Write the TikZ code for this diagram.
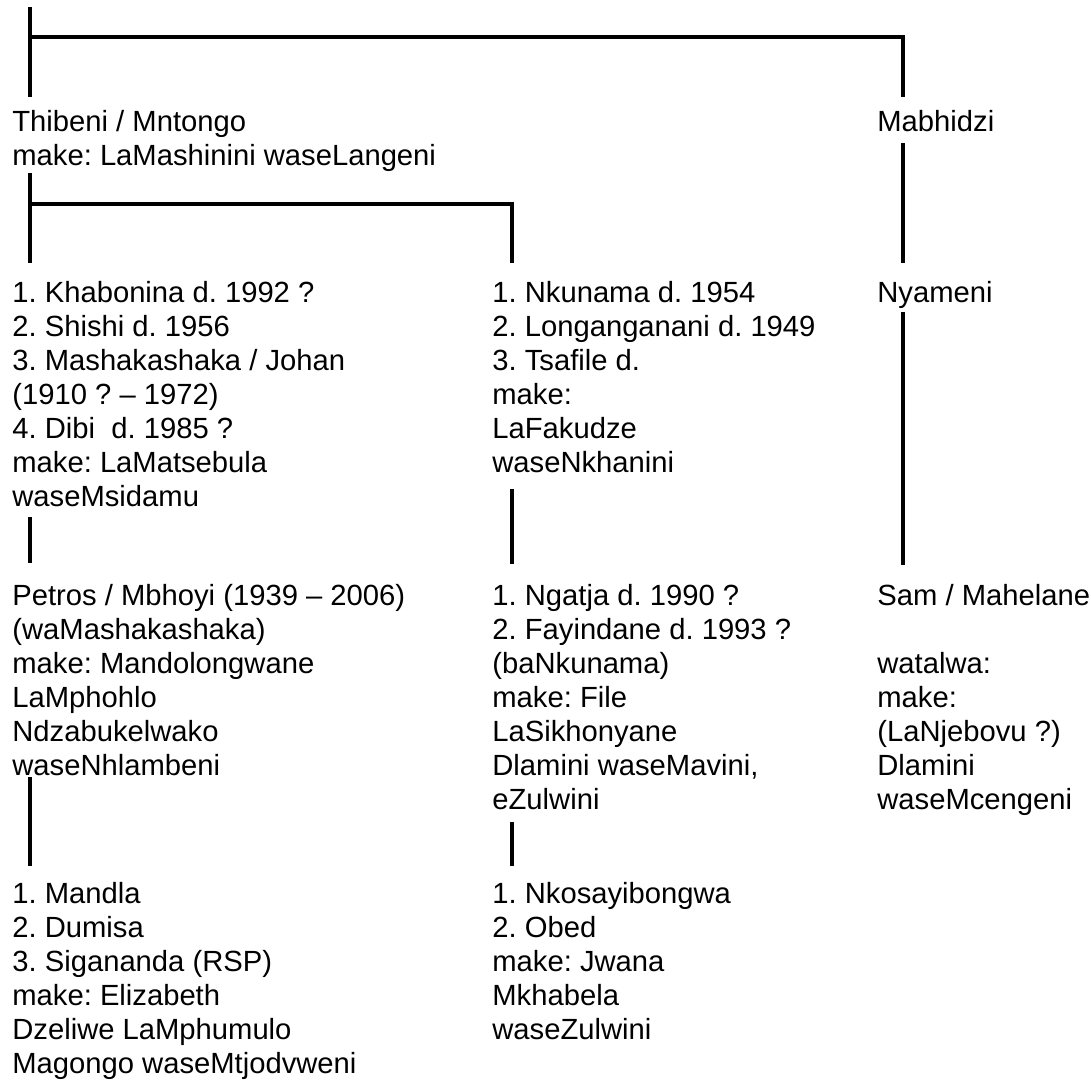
\documentclass[tikz,border=0pt]{standalone}
\usepackage{fontspec}
\setmainfont{Liberation Sans}
\frenchspacing
\tikzset{
  person/.style={anchor=north west, yshift=11.9pt, align=left, inner sep=0pt,
    font=\fontsize{14.6}{17}\selectfont, execute at begin node=\strut},
  branch/.style={line width=1.8pt, line cap=butt, line join=miter}
}
\begin{document}
\begin{tikzpicture}[x=0.5pt, y=-0.5pt]
\useasboundingbox (0,0) rectangle (1091,1082);
% first generation
\node[person] (thibeni) at (12,134) {Thibeni / Mntongo\\make: LaMashinini waseLangeni};
\node[person] (mabhidzi) at (877,131) {Mabhidzi};
% second generation
\node[person] (khabonina) at (12,305) {1. Khabonina d. 1992 ?\\2. Shishi d. 1956\\3. Mashakashaka / Johan\\(1910 ? – 1972)\\4. Dibi\ \ d. 1985 ?\\make: LaMatsebula\\waseMsidamu};
\node[person] (nkunama) at (492,305) {1. Nkunama d. 1954\\2. Longanganani d. 1949\\3. Tsafile d.\\make:\\LaFakudze\\waseNkhanini};
\node[person] (nyameni) at (877,302) {Nyameni};
% third generation
\node[person] (petros) at (12,608) {Petros / Mbhoyi (1939 – 2006)\\(waMashakashaka)\\make: Mandolongwane\\LaMphohlo\\Ndzabukelwako\\waseNhlambeni};
\node[person] (ngatja) at (492,608) {1. Ngatja d. 1990 ?\\2. Fayindane d. 1993 ?\\(baNkunama)\\make: File\\LaSikhonyane\\Dlamini waseMavini,\\eZulwini};
\node[person] (sam) at (877,608) {Sam / Mahelane\\\\watalwa:\\make:\\(LaNjebovu ?)\\Dlamini\\waseMcengeni};
% fourth generation
\node[person] (mandla) at (12,906) {1. Mandla\\2. Dumisa\\3. Sigananda (RSP)\\make: Elizabeth\\Dzeliwe LaMphumulo\\Magongo waseMtjodvweni};
\node[person] (nkosa) at (492,906) {1. Nkosayibongwa\\2. Obed\\make: Jwana\\Mkhabela\\waseZulwini};
% line ends
\coordinate (rootTop) at (30,7);
\coordinate (rootL) at (30,97);
\coordinate (rootR) at (903,97);
\coordinate (thibeniTop) at (30,173);
\coordinate (thibeniL) at (30,263);
\coordinate (thibeniR) at (512,263);
\coordinate (mabhidziTop) at (903,143);
\coordinate (mabhidziEnd) at (903,263);
\coordinate (khaboninaTop) at (30,517);
\coordinate (khaboninaEnd) at (30,563);
\coordinate (nkunamaTop) at (512,489);
\coordinate (nkunamaEnd) at (512,564);
\coordinate (nyameniTop) at (903,312);
\coordinate (nyameniEnd) at (903,565);
\coordinate (petrosTop) at (30,777);
\coordinate (petrosEnd) at (30,866);
\coordinate (ngatjaTop) at (512,822);
\coordinate (ngatjaEnd) at (512,866);
% connectors
\draw[branch] (rootTop) -- (rootL);
\draw[branch] (30,37) -| (rootR);
\draw[branch] (thibeniTop) -- (thibeniL);
\draw[branch] (30,204) -| (thibeniR);
\draw[branch] (mabhidziTop) -- (mabhidziEnd);
\draw[branch] (khaboninaTop) -- (khaboninaEnd);
\draw[branch] (nkunamaTop) -- (nkunamaEnd);
\draw[branch] (nyameniTop) -- (nyameniEnd);
\draw[branch] (petrosTop) -- (petrosEnd);
\draw[branch] (ngatjaTop) -- (ngatjaEnd);
\end{tikzpicture}
\end{document}
